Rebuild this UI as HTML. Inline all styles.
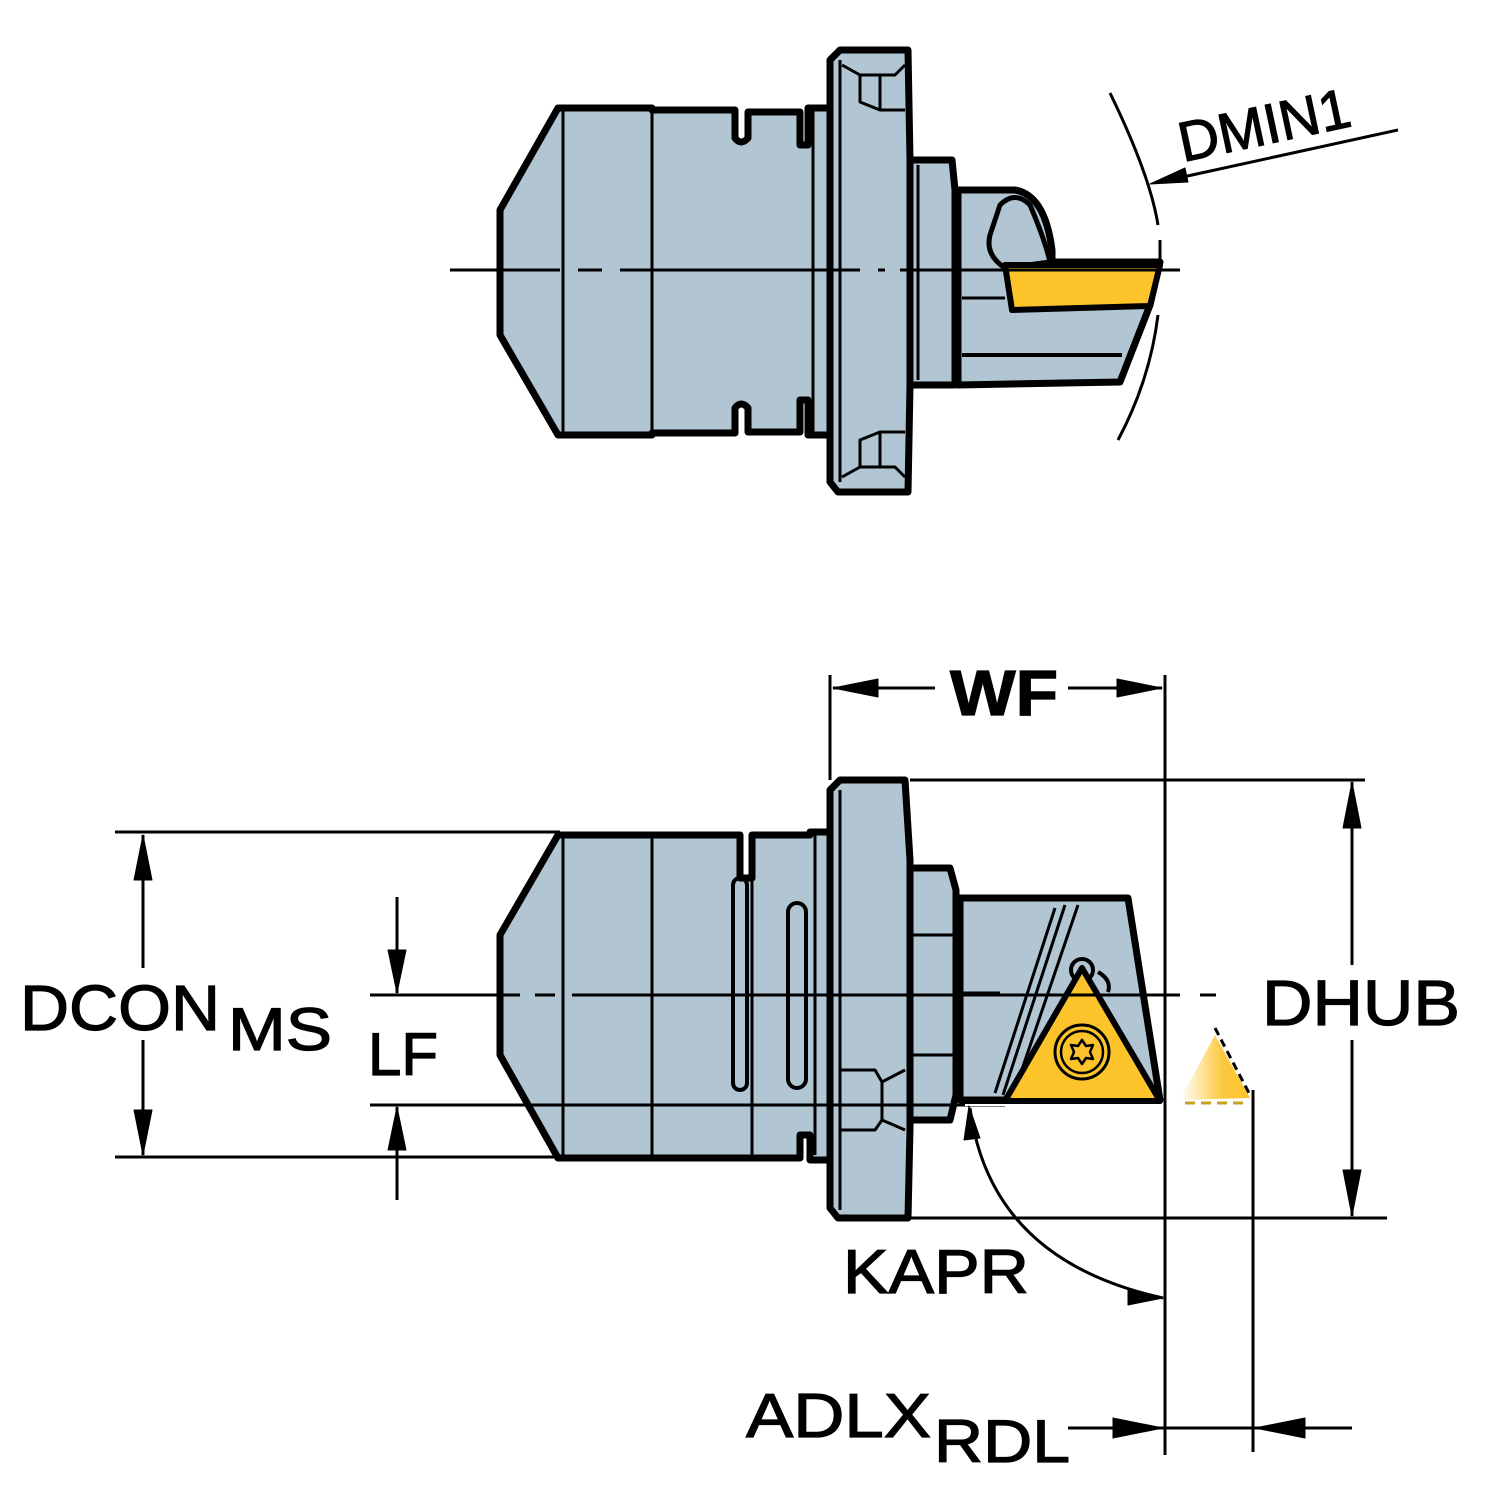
<!DOCTYPE html>
<html><head><meta charset="utf-8"><style>
html,body{margin:0;padding:0;background:#fff;}
svg{display:block}
text{font-family:"Liberation Sans",sans-serif;fill:#000;stroke:#000;stroke-width:1.2}
</style></head><body>
<svg width="1491" height="1500" viewBox="0 0 1491 1500" xmlns="http://www.w3.org/2000/svg">
<defs>
<linearGradient id="ghost" x1="0" y1="0" x2="1" y2="0">
<stop offset="0" stop-color="#fcc32b" stop-opacity="0"/>
<stop offset="0.6" stop-color="#fcc32b" stop-opacity="0.9"/>
<stop offset="1" stop-color="#fcc32b"/>
</linearGradient>
</defs>
<g stroke="#000" stroke-linejoin="round" fill="#b1c5d3">
<path d="M558,108 L652,108 L652,110 L735,110 L735,138 Q741,146 748,138 L748,112 L800,112 L800,145 L808,145 L808,108 L830,108 L830,435 L808,435 L808,400 L800,400 L800,432 L748,432 L748,408 Q741,400 735,408 L735,433 L652,433 L652,435 L558,435 L500,335 L500,210 Z" stroke-width="7"/>
<g fill="none" stroke-width="3">
<line x1="563" y1="110" x2="563" y2="433"/>
<line x1="652" y1="110" x2="652" y2="433"/>
<line x1="813" y1="110" x2="813" y2="433"/>
</g>
<path d="M840,50 L908,50 L910,160 L910,385 L908,492 L838,492 L830,482 L830,60 Z" stroke-width="7"/>
<g fill="none" stroke-width="3">
<line x1="840" y1="60" x2="840" y2="482"/>
<path d="M842,65 L860,75 L895,75 L905,65"/>
<path d="M860,75 L860,102 L880,110 L905,110"/>
<line x1="880" y1="75" x2="880" y2="110"/>
<path d="M842,477 L860,467 L895,467 L905,477"/>
<path d="M860,467 L860,440 L880,432 L905,432"/>
<line x1="880" y1="432" x2="880" y2="467"/>
</g>
<path d="M910,160 L952,160 L955,190 L955,385 L910,385 Z" stroke-width="7"/>
<line x1="918" y1="165" x2="918" y2="380" stroke-width="3"/>
<path d="M958,190 L1015,190 Q1045,195 1052,250 L1052,262 L1160,262 L1150,305 L1120,382 L958,385 Z" stroke-width="7"/>
<path d="M1000,205 Q1015,190 1030,205 Q1045,240 1050,262 L1005,268 Q985,255 990,235 Z" stroke-width="5"/>
<line x1="962" y1="355" x2="1122" y2="355" stroke-width="4"/>
<line x1="962" y1="298" x2="1005" y2="298" stroke-width="3"/>
<path d="M1005,265 L1160,265 L1150,306 L1012,310 Z" fill="#fcc32b" stroke-width="6"/>
<path d="M450,270 L560,270 M578,270 L602,270 M620,270 L860,270 M878,270 L885,270 M900,270 L1180,270" stroke-width="3" fill="none"/>
<path d="M1110,93 Q1150,175 1158,225" fill="none" stroke-width="3"/>
<path d="M1160,240 L1160,268" fill="none" stroke-width="3"/>
<path d="M1158,315 Q1150,380 1118,440" fill="none" stroke-width="3"/>
<line x1="1160" y1="182" x2="1398" y2="130" stroke-width="3"/>
<path d="M1150,184 L1185,168 L1188,182 Z" fill="#000" stroke-width="1"/>

<path d="M558,835 L740,835 L740,878 L752,878 L752,835 L810,835 L810,832 L832,832 L832,1160 L810,1160 L810,1135 L800,1135 L800,1158 L558,1158 L500,1055 L500,935 Z" stroke-width="7"/>
<g fill="none" stroke-width="3">
<line x1="563" y1="838" x2="563" y2="1155"/>
<line x1="652" y1="838" x2="652" y2="1155"/>
<line x1="752" y1="878" x2="752" y2="1155"/>
<line x1="815" y1="835" x2="815" y2="1155"/>
</g>
<rect x="733" y="878" width="14" height="212" rx="7" fill="none" stroke-width="4"/>
<rect x="788" y="903" width="18" height="185" rx="9" fill="none" stroke-width="4"/>
<path d="M840,780 L905,780 L910,860 L910,1128 L908,1218 L838,1218 L830,1208 L830,790 Z" stroke-width="7"/>
<line x1="840" y1="790" x2="840" y2="1210" stroke-width="3"/>
<path d="M840,1070 L875,1070 L882,1082 L882,1120 L875,1130 L840,1130" fill="none" stroke-width="3"/>
<path d="M905,1070 L882,1082 M905,1130 L882,1120" fill="none" stroke-width="3"/>
<path d="M910,868 L950,868 L956,890 L956,1095 L950,1120 L910,1120 Z" stroke-width="7"/>
<g fill="none" stroke-width="3">
<line x1="912" y1="935" x2="954" y2="935"/>
<line x1="912" y1="1055" x2="954" y2="1055"/>
</g>
<path d="M960,898 L1128,898 L1160,1100 L1005,1100 L970,1100 L960,1100 Z" stroke-width="7"/>
<g fill="none" stroke-width="3">
<path d="M1055,908 L995,1093"/>
<path d="M1065,905 L1003,1095"/>
<path d="M1078,905 L1015,1090"/>
<line x1="962" y1="993" x2="1000" y2="993"/>
</g>
<circle cx="1082" cy="970" r="11" fill="#b1c5d3" stroke-width="4"/>
<path d="M1098,972 Q1112,980 1108,992" fill="none" stroke-width="4"/>
<path d="M1082,968 L1160,1101 L1005,1101 Z" fill="#fcc32b" stroke-width="6"/>
<circle cx="1082" cy="1052" r="27" fill="#fcc32b" stroke-width="3"/>
<circle cx="1082" cy="1052" r="21" fill="#fcc32b" stroke-width="2.5"/>
<path d="M1082,1040 L1086,1046 L1093,1045 L1090,1052 L1093,1059 L1086,1058 L1082,1064 L1078,1058 L1071,1059 L1074,1052 L1071,1045 L1078,1046 Z" fill="none" stroke-width="2.5"/>
<path d="M1215,1035 L1250,1098 L1180,1100 Z" fill="url(#ghost)" stroke="none"/>
<path d="M1215,1028 L1250,1095" fill="none" stroke-width="3" stroke-dasharray="8,5"/>
<path d="M1185,1103 L1245,1103" fill="none" stroke-width="3" stroke-dasharray="10,6" stroke="#c8a020"/>
<path d="M370,995 L520,995 M535,995 L555,995 M572,995 L1180,995 M1200,995 L1216,995" fill="none" stroke-width="3"/>
<line x1="370" y1="1105" x2="1005" y2="1105" stroke-width="3"/>
<line x1="965" y1="1105" x2="1005" y2="1105" stroke="#fff" stroke-width="2"/>
<line x1="115" y1="832" x2="560" y2="832" stroke-width="3"/>
<line x1="115" y1="1157" x2="560" y2="1157" stroke-width="3"/>
<line x1="143" y1="835" x2="143" y2="968" stroke-width="3"/>
<line x1="143" y1="1040" x2="143" y2="1155" stroke-width="3"/>
<path d="M143,835 L134,880 L152,880 Z M143,1155 L134,1110 L152,1110 Z" fill="#000" stroke-width="1"/>
<line x1="397" y1="897" x2="397" y2="993" stroke-width="3"/>
<line x1="397" y1="1107" x2="397" y2="1200" stroke-width="3"/>
<path d="M397,993 L388,950 L406,950 Z M397,1107 L388,1150 L406,1150 Z" fill="#000" stroke-width="1"/>
<line x1="830" y1="675" x2="830" y2="780" stroke-width="3"/>
<line x1="1165" y1="675" x2="1165" y2="1455" stroke-width="3"/>
<line x1="833" y1="688" x2="935" y2="688" stroke-width="3"/>
<line x1="1068" y1="688" x2="1162" y2="688" stroke-width="3"/>
<path d="M833,688 L878,679 L878,697 Z M1162,688 L1117,679 L1117,697 Z" fill="#000" stroke-width="1"/>
<line x1="910" y1="780" x2="1365" y2="780" stroke-width="3"/>
<line x1="910" y1="1218" x2="1387" y2="1218" stroke-width="3"/>
<line x1="1352" y1="782" x2="1352" y2="965" stroke-width="3"/>
<line x1="1352" y1="1040" x2="1352" y2="1216" stroke-width="3"/>
<path d="M1352,782 L1343,828 L1361,828 Z M1352,1216 L1343,1170 L1361,1170 Z" fill="#000" stroke-width="1"/>
<path d="M970,1108 Q990,1260 1163,1298" fill="none" stroke-width="3"/>
<path d="M969,1106 L964,1140 L980,1138 Z M1163,1298 L1128,1290 L1128,1305 Z" fill="#000" stroke-width="1"/>
<line x1="1253" y1="1090" x2="1253" y2="1452" stroke-width="3"/>
<line x1="1068" y1="1428" x2="1352" y2="1428" stroke-width="3"/>
<path d="M1163,1428 L1113,1418 L1113,1438 Z M1255,1428 L1305,1418 L1305,1438 Z" fill="#000" stroke-width="1"/>
</g>
<text x="1183" y="162" font-size="56" transform="rotate(-12 1183 162)">DMIN1</text>
<text x="950" y="715" font-size="64" font-weight="bold" textLength="108" lengthAdjust="spacingAndGlyphs">WF</text>
<text x="20" y="1030" font-size="64" textLength="200" lengthAdjust="spacingAndGlyphs">DCON</text>
<text x="228" y="1050" font-size="60" textLength="104" lengthAdjust="spacingAndGlyphs">MS</text>
<text x="368" y="1075" font-size="60" textLength="70" lengthAdjust="spacingAndGlyphs">LF</text>
<text x="1262" y="1025" font-size="64" textLength="198" lengthAdjust="spacingAndGlyphs">DHUB</text>
<text x="843" y="1293" font-size="62" textLength="186" lengthAdjust="spacingAndGlyphs">KAPR</text>
<text x="746" y="1437" font-size="62" textLength="185" lengthAdjust="spacingAndGlyphs">ADLX</text>
<text x="934" y="1462" font-size="60" textLength="136" lengthAdjust="spacingAndGlyphs">RDL</text>
</svg>
</body></html>
